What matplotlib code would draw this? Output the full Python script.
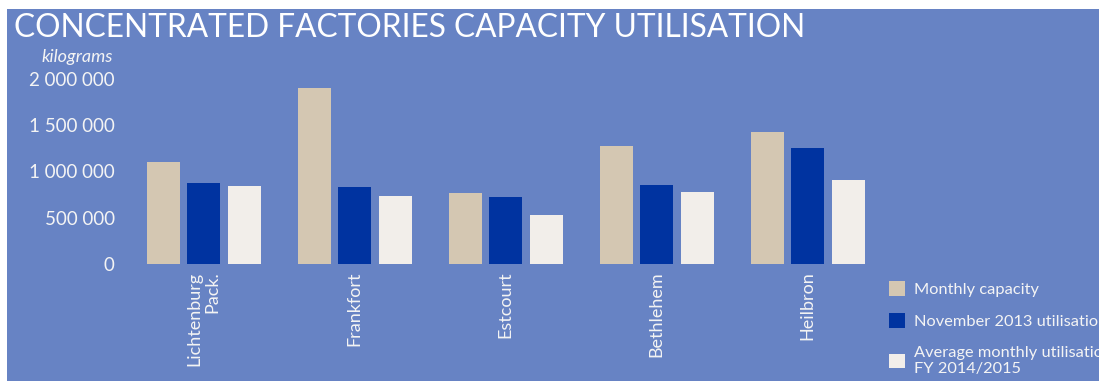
import matplotlib
matplotlib.use("Agg")
import matplotlib.pyplot as plt
from matplotlib.patches import Rectangle
import numpy as np

plt.rcParams['font.family'] = ['Lato', 'DejaVu Sans']

factories = ["Lichtenburg\nPack.", "Frankfort", "Estcourt", "Bethlehem", "Heilbron"]
series_names = ["Monthly capacity", "November 2013 utilisation",
                "Average monthly utilisation\nFY 2014/2015"]
monthly_capacity = [1100000, 1900000, 765000, 1272000, 1423000]
nov_2013 = [873000, 830000, 722000, 852000, 1251000]
avg_fy2015 = [841000, 733000, 528000, 776000, 906000]
yticks = [0, 500000, 1000000, 1500000, 2000000]
ytick_labels = ["0", "500 000", "1 000 000", "1 500 000", "2 000 000"]

BG = "#6783C4"
COLORS = ["#D4C7B2", "#0033A0", "#F2EEEA"]
TXT = "#F4F4F4"

fig = plt.figure(figsize=(10.99, 3.81), dpi=100)
fig.patch.set_facecolor("white")
bgrect = Rectangle((7/1099, 0), 1 - 7/1099, 1 - 9/381,
                   transform=fig.transFigure, facecolor=BG,
                   edgecolor="none", zorder=-10)
fig.patches.append(bgrect)

ax = fig.add_axes([128/1099, 117/381, 755/1099, 185.5/381])
ax.set_facecolor("none")
ax.set_zorder(5)
x = np.arange(len(factories))
off = 40.5/151
w = 33/151
handles = []
for i, (vals, c, name) in enumerate(zip([monthly_capacity, nov_2013, avg_fy2015], COLORS, series_names)):
    h = ax.bar(x + (i - 1) * off, vals, width=w, color=c, label=name, zorder=2)
    handles.append(h)

ax.set_xlim(-0.5, len(factories) - 0.5)
ax.set_ylim(0, 2000000)
ax.set_yticks(yticks)
ax.set_yticklabels(ytick_labels)
ax.set_xticks(x)
ax.set_xticklabels(factories, rotation=90, va='top', ha='center', multialignment='right')
ax.tick_params(axis='y', length=0, pad=9.5, labelsize=13.5, labelcolor=TXT)
ax.tick_params(axis='x', length=0, pad=5.5, labelsize=13, labelcolor=TXT)
for s in ax.spines.values():
    s.set_visible(False)

fig.text(14/1099, 1 - 37/381, "CONCENTRATED FACTORIES CAPACITY UTILISATION",
         color="white", fontsize=22.8, va='baseline', ha='left')
fig.text(113/1099, 1 - 62/381, "kilograms", color=TXT, fontsize=13,
         style='italic', va='baseline', ha='right')

leg = fig.legend(handles=handles, labels=series_names, loc='upper left',
                 bbox_to_anchor=(889/1099, 1 - 281/381), frameon=False,
                 fontsize=11.8, labelcolor=TXT, handlelength=1.0, handleheight=1.0,
                 handletextpad=0.55, labelspacing=1.0, borderaxespad=0, borderpad=0)
for t in leg.get_texts():
    t.set_linespacing(1.25)

fig.savefig("out.png", dpi=100, facecolor=fig.get_facecolor())
